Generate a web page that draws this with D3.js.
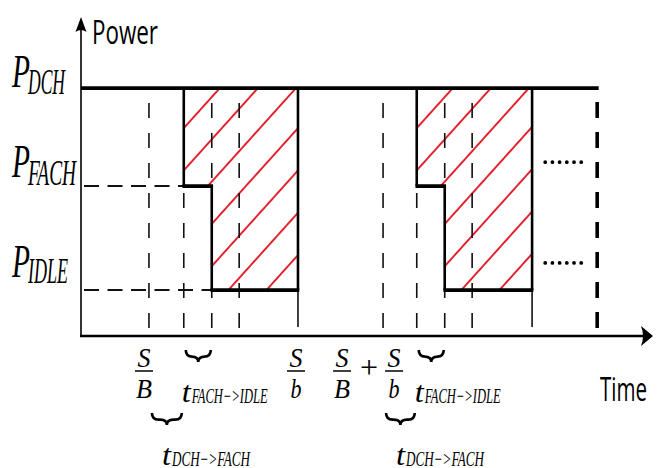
<!DOCTYPE html>
<html><head><meta charset="utf-8">
<script src="https://cdn.jsdelivr.net/npm/d3@7"></script>
<style>body{margin:0;background:#fff}svg{display:block}</style>
</head><body><svg id="c" width="660" height="468"></svg>
<script>
// ---------- data (arbitrary units) ----------
const levelNames  = ["DCH", "FACH", "IDLE"];
const levelValues = [7.77, 4.70, 1.44];          // P_DCH, P_FACH, P_IDLE
const tSend  = [11.9, 52.9];   // S/B , S/B + S/b
const tDrop  = [18.0, 58.8];   // DCH -> FACH
const tIdle  = [22.9, 63.7];   // FACH -> IDLE
const tMid   = [27.7, 68.5];   // extra dashed marker inside burst
const tEnd   = [38.0, 79.0];   // S/b (end of burst)
const tLimit = 90.4;           // continuation (thick dashed)
const dotRows = [5.45, 2.29];  // "......" rows
const dotSpan = [81.3, 87.7];
const tMax = 100, pMax = 10, dashFloor = 0.25;

// ---------- scales ----------
const svg = d3.select("#c");
const x = d3.scaleLinear().domain([0, tMax]).range([81, 652]);
const y = d3.scaleLinear().domain([0, pMax]).range([336, 17]);
const [pDCH, pFACH, pIDLE] = levelValues;
const RED = "#e4222f";
const serif = "'Liberation Serif','Times New Roman',serif";
const sans = "'Open Sans','DejaVu Sans',sans-serif";

// ---------- hatch patterns ----------
const defs = svg.append("defs");
tDrop.forEach((t, i) => {
  const h = 28.3;
  const p = defs.append("pattern").attr("id", "hatch" + i)
    .attr("patternUnits", "userSpaceOnUse").attr("width", 60).attr("height", h)
    .attr("patternTransform", `translate(${x(t) + 36},${y(pDCH)}) rotate(-48)`);
  [0, h].forEach(yy => p.append("line").attr("x1", 0).attr("x2", 60)
    .attr("y1", yy).attr("y2", yy).attr("stroke", RED).attr("stroke-width", 2.1));
});

// hatched regions
tDrop.forEach((t, i) => {
  const d = d3.path();
  d.moveTo(x(t), y(pDCH)); d.lineTo(x(tEnd[i]), y(pDCH)); d.lineTo(x(tEnd[i]), y(pIDLE));
  d.lineTo(x(tIdle[i]), y(pIDLE)); d.lineTo(x(tIdle[i]), y(pFACH)); d.lineTo(x(t), y(pFACH));
  d.closePath();
  svg.append("path").attr("d", d.toString()).attr("fill", `url(#hatch${i})`);
});

// ---------- thin vertical dashed markers ----------
const vMarks = [].concat(tSend, tDrop, tIdle, tMid);
svg.append("g").selectAll("line").data(vMarks).join("line")
  .attr("x1", d => x(d)).attr("x2", d => x(d))
  .attr("y1", y(dashFloor)).attr("y2", y(pDCH) + 2)
  .attr("stroke", "#111").attr("stroke-width", 1.6).attr("stroke-dasharray", "15 15");

// short ticks under burst ends
svg.append("g").selectAll("line").data(tEnd).join("line")
  .attr("x1", d => x(d)).attr("x2", d => x(d))
  .attr("y1", y(dashFloor) - 1).attr("y2", y(pIDLE) - 10)
  .attr("stroke", "#111").attr("stroke-width", 1.6);

// horizontal dashed guides
svg.append("line").attr("x1", x(0) + 3).attr("x2", x(tDrop[0]))
  .attr("y1", y(pFACH)).attr("y2", y(pFACH))
  .attr("stroke", "#111").attr("stroke-width", 2).attr("stroke-dasharray", "15 8.5");
svg.append("line").attr("x1", x(0) + 3).attr("x2", x(tIdle[0]))
  .attr("y1", y(pIDLE)).attr("y2", y(pIDLE))
  .attr("stroke", "#111").attr("stroke-width", 2).attr("stroke-dasharray", "15 8.5");

// thick dashed continuation
svg.append("line").attr("x1", x(tLimit)).attr("x2", x(tLimit))
  .attr("y1", y(dashFloor)).attr("y2", y(pDCH) + 2)
  .attr("stroke", "#000").attr("stroke-width", 3.6).attr("stroke-dasharray", "16 14");

// ---------- power profile ----------
svg.append("line").attr("x1", x(0)).attr("x2", x(tLimit) + 1.5)
  .attr("y1", y(pDCH)).attr("y2", y(pDCH))
  .attr("stroke", "#000").attr("stroke-width", 3.6);
tDrop.forEach((t, i) => {
  const g = svg.append("g").attr("stroke", "#000").attr("fill", "none");
  g.append("path").attr("stroke-width", 2.6)
    .attr("d", `M${x(t)},${y(pDCH)}V${y(pFACH)}M${x(tIdle[i])},${y(pFACH)}V${y(pIDLE)}M${x(tEnd[i])},${y(pIDLE)}V${y(pDCH)}`);
  g.append("path").attr("stroke-width", 3.8)
    .attr("d", `M${x(t) - 1.3},${y(pFACH)}H${x(tIdle[i]) + 1.3}M${x(tIdle[i]) - 1.3},${y(pIDLE)}H${x(tEnd[i]) + 1.3}`);
});

// dotted "......"
svg.append("g").selectAll("line").data(dotRows).join("line")
  .attr("x1", x(dotSpan[0])).attr("x2", x(dotSpan[1]))
  .attr("y1", d => y(d)).attr("y2", d => y(d))
  .attr("stroke", "#000").attr("stroke-width", 3.8)
  .attr("stroke-linecap", "round").attr("stroke-dasharray", "0 7.2");

// ---------- axes ----------
svg.append("line").attr("x1", x(0)).attr("x2", x(0)).attr("y1", y(0) + 1).attr("y2", y(pMax) + 6)
  .attr("stroke", "#000").attr("stroke-width", 1.6);
svg.append("path").attr("fill", "#000")
  .attr("d", `M${x(0)},${y(pMax)}L${x(0) + 5.5},${y(pMax) + 15}Q${x(0)},${y(pMax) + 11} ${x(0) - 5.5},${y(pMax) + 15}Z`);
svg.append("line").attr("x1", x(0) - 1).attr("x2", x(tMax) - 5).attr("y1", y(0)).attr("y2", y(0))
  .attr("stroke", "#000").attr("stroke-width", 2.6);
svg.append("path").attr("fill", "#000")
  .attr("d", `M${x(tMax) + 1},${y(0)}L${x(tMax) - 11},${y(0) - 10}Q${x(tMax) - 7},${y(0)} ${x(tMax) - 11},${y(0) + 10}Z`);

// ---------- text helpers ----------
function txt(s, px, py, size, len, font, anchor, italic) {
  return svg.append("text").text(s).attr("x", px).attr("y", py)
    .attr("font-family", font).attr("font-size", size)
    .attr("font-style", italic ? "italic" : "normal")
    .attr("text-anchor", anchor || "start")
    .attr("textLength", len).attr("lengthAdjust", "spacingAndGlyphs").attr("fill", "#000");
}
txt("Power", x(0) + 11, y(pMax) + 27, 33, 66, sans);
txt("Time", x(tMax) - 52, y(0) + 65, 33, 47, sans);

// level labels
const subW = [37, 48, 40];
const subDy = [7, 8, 6];
const pDy = [-1, -9, -13];
levelValues.forEach((v, i) => {
  txt("P", 12, y(v) + pDy[i], 47, 18, serif, "start", true);
  txt(levelNames[i], 28, y(v) + pDy[i] + subDy[i], 35, subW[i], serif, "start", true);
});

// fractions
function frac(cx, num, den, dw) {
  txt(num, cx, y(0) + 31, 28, 13, serif, "middle", true);
  svg.append("line").attr("x1", cx - 9).attr("x2", cx + 9)
    .attr("y1", y(0) + 35).attr("y2", y(0) + 35).attr("stroke", "#000").attr("stroke-width", 1.5);
  txt(den, cx, y(0) + 62, 28, dw, serif, "middle", true);
}
frac(x(tSend[0]) - 5, "S", "B", 16);
frac(x(tEnd[0]) - 2, "S", "b", 11);
frac(x(tSend[1]) - 41, "S", "B", 16);
svg.append("text").text("+").attr("x", x(tSend[1]) - 14).attr("y", y(0) + 42)
  .attr("font-family", serif).attr("font-size", 32).attr("text-anchor", "middle");
frac(x(tSend[1]) + 11, "S", "b", 11);

// braces
function brace(x0, x1, y0, h) {
  const xm = (x0 + x1) / 2, y1 = y0 + h * 0.55, q = h * 0.55;
  svg.append("path").attr("fill", "none").attr("stroke", "#000").attr("stroke-width", 2.6)
    .attr("d", `M${x0},${y0}Q${x0},${y1} ${x0 + q},${y1}L${xm - q},${y1}Q${xm},${y1} ${xm},${y0 + h}` +
      `Q${xm},${y1} ${xm + q},${y1}L${x1 - q},${y1}Q${x1},${y1} ${x1},${y0}`);
}
function tlabel(px, py, sub, sw) {
  txt("t", px, py, 30, 9, serif, "start", true);
  txt(sub, px + 10, py + 1, 21, sw, serif, "start", true);
}
tDrop.forEach((t, i) => {
  brace(x(t) + 2, x(tIdle[i]) - 1, y(0) + 14, 12);
  tlabel(x(t) - 2, y(0) + 66, "FACH−>IDLE", 76);
  brace(x(tSend[i]) + 3, x(t) - 2, y(0) + 77, 12);
  tlabel(x(tSend[i]) + 13, y(0) + 129, "DCH−>FACH", 78);
});
</script></body></html>
